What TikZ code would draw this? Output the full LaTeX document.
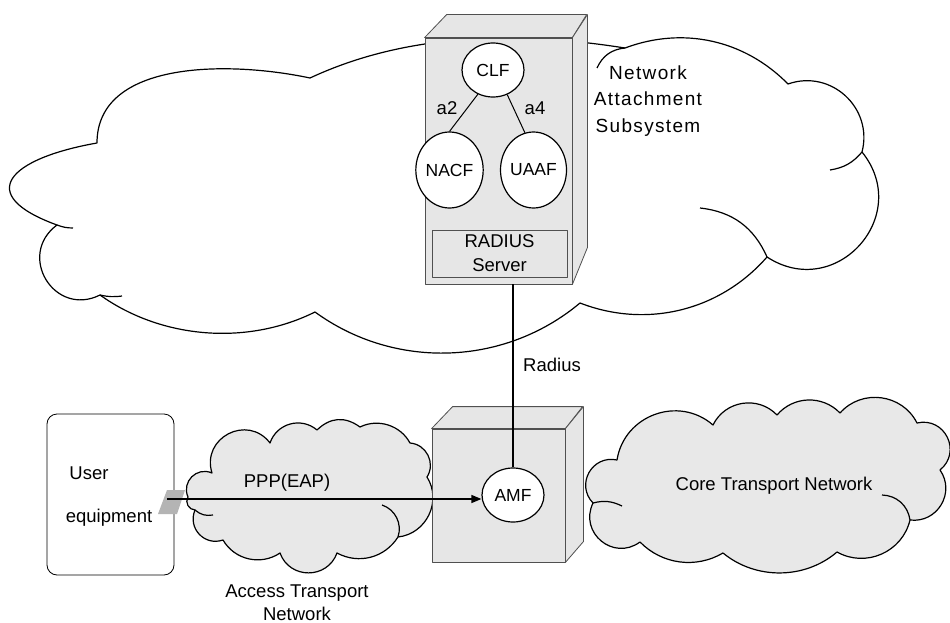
\documentclass[tikz,border=0pt]{standalone}
\usepackage{fontspec}
\setmainfont{Liberation Sans}
\usetikzlibrary{shapes.geometric,arrows.meta}
\definecolor{boxgray}{HTML}{E6E6E6}
\definecolor{cloudgray}{HTML}{E8E8E8}
\definecolor{edgegray}{HTML}{505050}
\definecolor{portgray}{HTML}{B4B4B4}
\newcommand{\dfont}{\fontsize{18.5}{22}\selectfont}
\begin{document}
\begin{tikzpicture}[x=1pt,y=-1pt,line join=round,
  lb/.style 2 args={bend left=#1,looseness=#2},
  cloudline/.style={draw=black,line width=1.2pt},
  graycloud/.style={cloudline,fill=cloudgray},
  whitecloud/.style={cloudline,fill=white},
  boxface/.style={draw=edgegray,line width=0.8pt,fill=boxgray,inner sep=0pt},
  fnell/.style={ellipse,draw=black,line width=1.2pt,fill=white,inner sep=0pt,font=\fontsize{17.5}{21}\selectfont},
  radbox/.style={draw=edgegray,line width=1pt,fill=boxgray,inner sep=0pt,align=center,font=\fontsize{18.5}{24}\selectfont},
  uebox/.style={draw=black,line width=0.8pt,rounded corners=10pt,fill=white,inner sep=0pt},
  lbl/.style={font=\dfont,inner sep=0pt},
  conn/.style={draw=black,line width=1.3pt}]
\useasboundingbox (0,0) rectangle (950,623);

% ---------- Network Attachment Subsystem cloud ----------
\draw[whitecloud] (97,143) to[out=90,in=168,looseness=0.95] (310,78)
  to[out=25,in=171,looseness=0.87] (625,48)
  to[lb={33}{0.95}] (788,84) to[lb={62}{1.16}] (862,152) to[lb={81}{1.48}] (767,257)
  to[lb={35}{0.95}] (580,303) to[lb={38}{0.95}] (315,312) to[lb={31}{0.9}] (100,295)
  to[lb={85}{1.58}] (57,225) to[out=160,in=190,looseness=2.5] (97,143) -- cycle;
\draw[cloudline] (597,68) to[bend left=30] (625,48);
\draw[cloudline] (862,152) to[bend left=20] (830,170);
\draw[cloudline] (700,208) to[bend left=30] (767,257);
\draw[cloudline] (100,295) to[bend right=10] (122,296);
\draw[cloudline] (57,225) to[bend right=10] (73,228);
\node[lbl,align=center,font=\fontsize{19}{26.5}\selectfont\addfontfeature{LetterSpace=7}] (nastext) at (648,101) {Network\\Attachment\\Subsystem};

% ---------- NASS server box ----------
\node[boxface,minimum width=147,minimum height=246] (nass) at (498.5,161) {};
\draw[boxface] (nass.north west) -- ++(22,-23) -- ++(140,0) -- (nass.north east) -- cycle;
\draw[boxface] (nass.north east) -- ++(15,-23) -- ++(0,233) -- (nass.south east) -- cycle;
\node[fnell,minimum width=62,minimum height=54] (clf) at (493,70) {CLF};
\node[fnell,minimum width=45,minimum height=76] (nacf) at (449.5,170) {NACF};
\node[fnell,minimum width=61,minimum height=76] (uaaf) at (533.5,170) {UAAF};
\draw[conn,line width=1pt] (clf.238) -- (nacf.north);
\draw[conn,line width=1pt] (clf.300) -- (uaaf.103);
\node[lbl] (a2) at (447,108) {a2};
\node[lbl] (a4) at (535,108) {a4};
\node[radbox,minimum width=135,minimum height=47] (radius) at (499.5,253.5) {RADIUS\\Server};

% ---------- Access Transport Network cloud ----------
\draw[graycloud] (188,497) to[lb={69}{1.25}] (212,473) to[lb={80}{1.45}] (270,443)
  to[lb={56}{1.09}] (317,430) to[lb={40}{1.1}] (360,427) to[lb={44}{0.98}] (410,443)
  to[lb={59}{1.11}] (427,477) to[lb={58}{1.1}] (398,537) to[lb={43}{1}] (337,553)
  to[lb={70}{1.27}] (280,553) to[lb={47}{1.01}] (223,540) to[lb={66}{1.22}] (195,510)
  to[lb={60}{1.1}] (188,497) -- cycle;
\draw[cloudline] (382,505) to[bend left=45] (398,537);
\draw[cloudline] (195,510) to[bend right=25] (213,515);
\node[lbl,align=center,font=\fontsize{18.5}{23}\selectfont] (acctext) at (297,603) {Access Transport\\Network};

% ---------- Core Transport Network cloud ----------
\draw[graycloud] (593,503) to[lb={73}{1.33}] (617,460) to[lb={61}{1.14}] (713,425)
  to[lb={55}{1.08}] (777,415) to[lb={48}{1.02}] (840,413) to[lb={56}{1.08}] (917,423)
  to[lb={77}{1.4}] (940,470) to[lb={66}{1.21}] (910,520) to[lb={53}{1.06}] (837,552)
  to[lb={40}{0.95}] (723,553) to[lb={38}{0.96}] (640,542) to[lb={76}{1.38}] (593,503) -- cycle;
\draw[cloudline] (593,503) to[bend left=20] (622,506);
\draw[cloudline] (882,495) to[bend left=40] (910,520);
\node[lbl] (coretext) at (774,486) {Core Transport Network};

% ---------- AMF box ----------
\node[boxface,minimum width=133,minimum height=133] (amfbox) at (498.5,495.5) {};
\draw[boxface] (amfbox.north west) -- ++(21,-22) -- ++(130,0) -- (amfbox.north east) -- cycle;
\draw[boxface] (amfbox.north east) -- ++(18,-22) -- ++(0,135) -- (amfbox.south east) -- cycle;
\node[fnell,minimum width=62,minimum height=54] (amf) at (513,495) {AMF};

% ---------- User equipment ----------
\node[uebox,minimum width=127,minimum height=161] (ue) at (110.5,494.5) {};
\node[lbl] (uetext1) at (89,473) {User};
\node[lbl] (uetext2) at (109,518) {equipment};
\fill[portgray] (158,514) -- (167,490) -- (185,490) -- (177,514) -- cycle;
\coordinate (ueport) at (167,499);

% ---------- connectors ----------
\draw[conn,-{Triangle[length=10pt,width=8pt]}] (ueport) -- (ueport -| amf.west);
\node[lbl] (ppplbl) at (287,483) {PPP(EAP)};
\draw[conn,line width=1.1pt] (amf.north) -- (amf.north |- nass.south);
\node[lbl] (radlbl) at (552,365) {Radius};
\end{tikzpicture}
\end{document}
